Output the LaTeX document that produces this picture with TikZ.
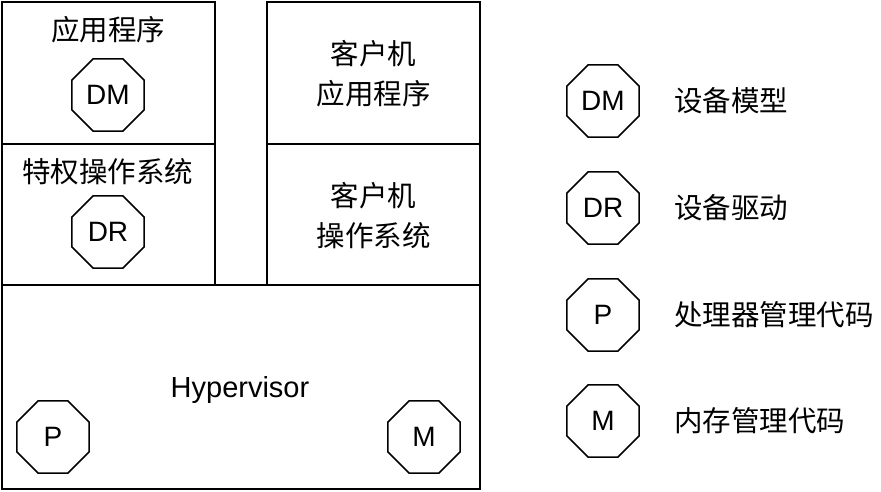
\documentclass[tikz,border=0pt]{standalone}
\usepackage{fontspec}
\setmainfont{Liberation Sans}
\newfontfamily\cjk{Noto Sans CJK SC}
\usetikzlibrary{shapes.geometric}
\begin{document}
\begin{tikzpicture}[x=1pt,y=-1pt,
  box/.style={draw, line width=2pt, inner sep=0pt, outer sep=0pt},
  oct/.style={regular polygon, regular polygon sides=8, draw, line width=1.5pt,
    minimum size=78pt, inner sep=0pt, font=\fontsize{28}{32}\selectfont},
  lbl/.style={inner sep=0pt, align=center, font=\fontsize{28.5}{40}\selectfont\cjk},
  hyplbl/.style={inner sep=0pt, font=\fontsize{29}{34}\selectfont},
]
\useasboundingbox (0,0) rectangle (881,492);
% boxes
\node[box, minimum width=213pt, minimum height=142pt] (app) at (108.5,73) {};
\node[box, minimum width=213pt, minimum height=141pt] (privos) at (108.5,214.5) {};
\node[box, minimum width=213pt, minimum height=142pt] (gapp) at (373.5,73) {};
\node[box, minimum width=213pt, minimum height=141pt] (gos) at (373.5,214.5) {};
\node[box, minimum width=478pt, minimum height=204pt] (hyp) at (241,387) {};
% texts in boxes
\node[lbl] (tapp) at (108,30) {应用程序};
\node[oct] (dm1) at (108,95) {DM};
\node[lbl] (tpriv) at (108,172) {特权操作系统};
\node[oct] (dr1) at (108,232) {DR};
\node[lbl] (tgapp) at (373.5,74) {客户机\\应用程序};
\node[lbl] (tgos) at (373.5,216) {客户机\\操作系统};
\node[hyplbl, anchor=base] (thyp) at (240,397) {Hypervisor};
\node[oct] (p1) at (53,437) {P};
\node[oct] (m1) at (424,437) {M};
% legend
\node[oct] (ldm) at (603,101) {DM};
\node[oct] (ldr) at (603,208) {DR};
\node[oct] (lp) at (603,315) {P};
\node[oct] (lm) at (603,421) {M};
\node[lbl, anchor=west] (tdm) at (674,101) {设备模型};
\node[lbl, anchor=west] (tdr) at (674,208) {设备驱动};
\node[lbl, anchor=west] (tp) at (674,315) {处理器管理代码};
\node[lbl, anchor=west] (tm) at (674,421) {内存管理代码};
\end{tikzpicture}
\end{document}
